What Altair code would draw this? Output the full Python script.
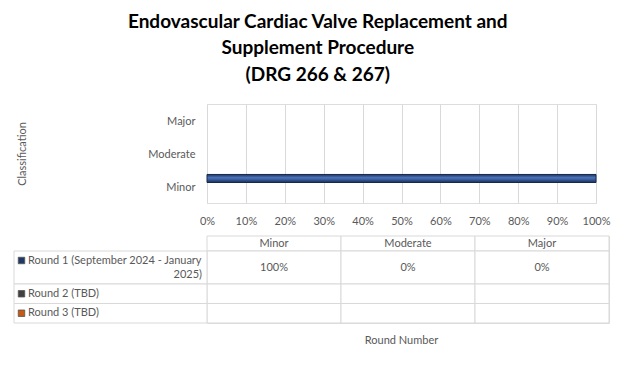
import altair as alt
import pandas as pd

# ---------------- data ----------------
title_lines = ["Endovascular Cardiac Valve Replacement and",
               "Supplement Procedure",
               "(DRG 266 & 267)"]
classes = ["Minor", "Moderate", "Major"]
rounds = ["Round 1 (September 2024 - January 2025)", "Round 2 (TBD)", "Round 3 (TBD)"]
round_label_lines = [["Round 1 (September 2024 - January", "2025)"],
                     ["Round 2 (TBD)"],
                     ["Round 3 (TBD)"]]
round_colors = ["#203864", "#404040", "#C55A11"]
round1_values = [100, 0, 0]
round2_values = [None, None, None]
round3_values = [None, None, None]
x_ticks = [0, 10, 20, 30, 40, 50, 60, 70, 80, 90, 100]
y_title = "Classification"
x_title = "Round Number"

series_values = [round1_values, round2_values, round3_values]

GRAY = "#595959"
GRID = "#D9D9D9"
FONT = "Lato"

# ---------------- bar chart ----------------
bar_rows = []
for r, vals in zip(rounds, series_values):
    for c, v in zip(classes, vals):
        bar_rows.append({"Round": r, "Classification": c, "value": v})
bar_df = pd.DataFrame(bar_rows)

bar_fill = alt.Gradient(
    gradient="linear", x1=0, x2=0, y1=0, y2=1,
    stops=[alt.GradientStop(color="#1E335A", offset=0),
           alt.GradientStop(color="#4B73B9", offset=0.4),
           alt.GradientStop(color="#3A5FA3", offset=0.6),
           alt.GradientStop(color="#1C3056", offset=1)])

bars = alt.Chart(bar_df).mark_bar(fill=bar_fill, stroke="#16284A", strokeWidth=1).encode(
    x=alt.X("value:Q",
            scale=alt.Scale(domain=[0, 100], nice=False),
            axis=alt.Axis(values=x_ticks, labelExpr="datum.value + '%'",
                          grid=True, gridColor=GRID, domain=False, ticks=False,
                          labelFlush=False, labelOverlap=False,
                          labelColor=GRAY, labelFontSize=11, labelPadding=12,
                          labelFont=FONT, title=None)),
    y=alt.Y("Classification:N", sort=["Major", "Moderate", "Minor"],
            scale=alt.Scale(domain=["Major", "Moderate", "Minor"],
                            paddingInner=0.27, paddingOuter=0.135),
            axis=alt.Axis(title=y_title, domain=False, ticks=False,
                          labelColor=GRAY, labelFontSize=11, labelFont=FONT,
                          labelPadding=12, labelBaseline="middle", labelOffset=1.5,
                          titleColor=GRAY, titleFontSize=11, titleFontWeight="normal",
                          titleFont=FONT, titleX=-185, titleBaseline="middle")),
    yOffset=alt.YOffset("Round:N", sort=rounds,
                        scale=alt.Scale(domain=rounds, paddingInner=0, paddingOuter=0)),
    strokeOpacity=alt.condition("datum.value > 0", alt.value(1), alt.value(0)),
).properties(width=389, height=99)

# ---------------- data table ----------------
HEADER_H = 15
row_heights = [6 + 13.5 * len(lines) for lines in round_label_lines]
tops = []
acc = HEADER_H
for h in row_heights:
    tops.append(acc)
    acc += h
total_h = acc

cell_rows = []
for c in classes:
    cell_rows.append({"col": c, "top": 0, "bottom": HEADER_H,
                      "mid": HEADER_H / 2, "text": c})
for i, (r, vals) in enumerate(zip(rounds, series_values)):
    for c, v in zip(classes, vals):
        cell_rows.append({"col": c, "top": tops[i], "bottom": tops[i] + row_heights[i],
                          "mid": tops[i] + row_heights[i] / 2,
                          "text": "" if v is None else f"{v}%"})
cells_df = pd.DataFrame(cell_rows)

label_rows = []
line_rows = []
for i, (r, lines) in enumerate(zip(rounds, round_label_lines)):
    mid = tops[i] + row_heights[i] / 2
    n = len(lines)
    label_rows.append({"Round": r, "top": tops[i], "bottom": tops[i] + row_heights[i],
                       "first": mid - (n - 1) / 2 * 14})
    for k, t in enumerate(lines):
        line_rows.append({"Round": r, "line": t, "k": k,
                          "y": mid + (k - (n - 1) / 2) * 14})
labels_df = pd.DataFrame(label_rows)
lines_df = pd.DataFrame(line_rows)

yscale = alt.Scale(domain=[0, total_h], reverse=True, nice=False, zero=False)
xcol = alt.X("col:N", sort=classes,
             scale=alt.Scale(domain=classes, paddingInner=0, paddingOuter=0),
             axis=alt.Axis(labels=False, ticks=False, domain=False, grid=False,
                           title=x_title, titleColor=GRAY, titleFontSize=11,
                           titleFontWeight="normal", titleFont=FONT,
                           titleX=194, titlePadding=11))

cell_rects = alt.Chart(cells_df).mark_rect(fill="white", stroke=GRID, strokeWidth=1).encode(
    x=xcol,
    y=alt.Y("top:Q", scale=yscale, axis=None),
    y2="bottom:Q",
)
cell_text = alt.Chart(cells_df).mark_text(fontSize=11, color=GRAY, font=FONT,
                                          baseline="middle").encode(
    x=alt.X("col:N", sort=classes),
    y=alt.Y("mid:Q", scale=yscale),
    text="text:N",
)
label_rects = alt.Chart(labels_df).mark_rect(fill="white", stroke=GRID, strokeWidth=1).encode(
    x=alt.value(-193), x2=alt.value(0),
    y=alt.Y("top:Q", scale=yscale), y2="bottom:Q",
)
swatches = alt.Chart(labels_df).mark_point(shape="square", filled=True, size=42,
                                           opacity=1, strokeWidth=0.8).encode(
    x=alt.value(-185.5),
    y=alt.Y("first:Q", scale=yscale),
    fill=alt.Fill("Round:N", scale=alt.Scale(domain=rounds, range=round_colors), legend=None),
    stroke=alt.value("#555555"),
)
first_lines = alt.Chart(lines_df).transform_filter("datum.k == 0").mark_text(
    fontSize=11, color=GRAY, font=FONT, align="left", baseline="middle").encode(
    x=alt.value(-179), y=alt.Y("y:Q", scale=yscale), text="line:N")
more_lines = alt.Chart(lines_df).transform_filter("datum.k > 0").mark_text(
    fontSize=11, color=GRAY, font=FONT, align="right", baseline="middle").encode(
    x=alt.value(-5), y=alt.Y("y:Q", scale=yscale), text="line:N")

table = alt.layer(cell_rects, label_rects, cell_text, swatches, first_lines, more_lines
                  ).properties(width=402, height=total_h)

chart = alt.vconcat(bars, table, spacing=8).properties(
    title=alt.TitleParams(text=title_lines, fontSize=19, font=FONT, fontWeight="bold",
                          color="black", lineHeight=26.5, anchor="middle", offset=19, dx=6),
    padding={"left": 5, "top": 4, "right": 0, "bottom": 0},
).configure_view(stroke=None).configure(font=FONT)

chart.save("out.html", embed_options={"renderer": "svg", "actions": False})
